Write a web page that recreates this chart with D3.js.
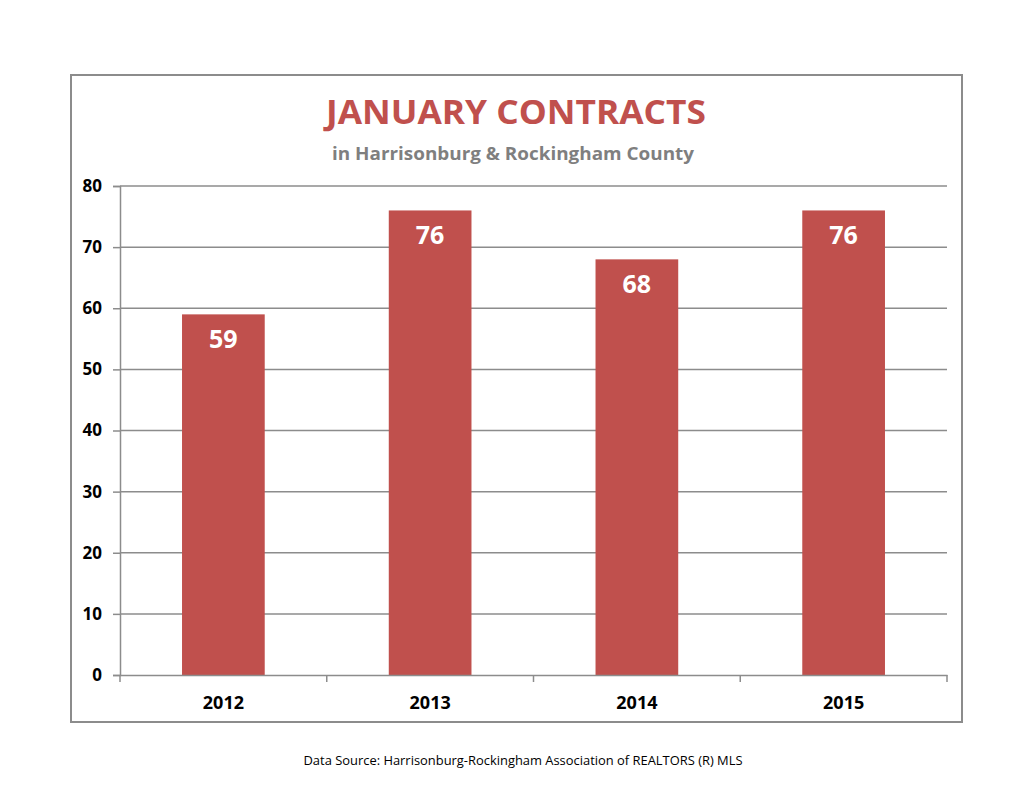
<!DOCTYPE html>
<html><head><meta charset="utf-8">
<script src="https://cdn.jsdelivr.net/npm/d3@7"></script>
<style>body{margin:0;background:#fff;}svg{display:block;}</style>
</head><body>
<script>
const categories = ["2012","2013","2014","2015"];
const values = [59,76,68,76];
const yTicks = [0,10,20,30,40,50,60,70,80];
const title = "JANUARY CONTRACTS";
const subtitle = "in Harrisonburg & Rockingham County";
const source = "Data Source: Harrisonburg-Rockingham Association of REALTORS (R) MLS";

const W=1035,H=800;
const svg=d3.select("body").append("svg").attr("width",W).attr("height",H);
const font="'Open Sans', sans-serif";
svg.append("rect").attr("x",71).attr("y",75).attr("width",891).attr("height",647)
  .attr("fill","#fff").attr("stroke","#8c8c8c").attr("stroke-width",2);

const m={l:120,r:947,t:186,b:675};
const x=d3.scaleBand().domain(categories).range([m.l,m.r]).paddingInner(0).paddingOuter(0);
const y=d3.scaleLinear().domain([0,80]).range([m.b,m.t]);

// gridlines
svg.append("g").selectAll("line").data(yTicks.filter(d=>d>0)).join("line")
  .attr("x1",m.l).attr("x2",m.r).attr("y1",d=>y(d)).attr("y2",d=>y(d))
  .attr("stroke","#8c8c8c").attr("stroke-width",1.5);

// bars
const bw=x.bandwidth()*0.4;
svg.append("g").selectAll("rect").data(values).join("rect")
  .attr("x",(d,i)=>x(categories[i])+x.bandwidth()/2-bw/2)
  .attr("width",bw).attr("y",d=>y(d)).attr("height",d=>y(0)-y(d))
  .attr("fill","#c0504d");

// labels
svg.append("g").selectAll("text").data(values).join("text")
  .attr("x",(d,i)=>x(categories[i])+x.bandwidth()/2).attr("y",d=>y(d)+34)
  .attr("text-anchor","middle").attr("fill","#fff").attr("font-family",font)
  .attr("font-weight","bold").attr("font-size",25).text(d=>d);

// y axis
const ya=svg.append("g").attr("transform",`translate(${m.l},0)`)
  .call(d3.axisLeft(y).tickValues(yTicks).tickSize(7).tickPadding(11));
ya.select(".domain").attr("stroke","#8c8c8c").attr("stroke-width",1.5);
ya.selectAll(".tick line").attr("stroke","#8c8c8c").attr("stroke-width",1.5);
ya.selectAll(".tick text").attr("font-family",font).attr("font-weight","bold")
  .attr("font-size",17).attr("fill","#000");

// x axis
const xa=svg.append("g").attr("transform",`translate(0,${m.b})`)
  .call(d3.axisBottom(x).tickSize(0).tickPadding(21));
xa.select(".domain").attr("stroke","#8c8c8c").attr("stroke-width",1.5);
xa.selectAll(".tick text").attr("font-family",font).attr("font-weight","bold")
  .attr("font-size",18).attr("fill","#000");
const bounds=[...categories.map(c=>x(c)), m.r];
xa.append("g").selectAll("line").data(bounds).join("line")
  .attr("x1",d=>d).attr("x2",d=>d).attr("y1",0).attr("y2",7)
  .attr("stroke","#8c8c8c").attr("stroke-width",1.5);

// titles
svg.append("text").attr("x",516).attr("y",124).attr("text-anchor","middle")
  .attr("font-family",font).attr("font-weight","bold").attr("font-size",34)
  .attr("fill","#c0504d").attr("textLength",380).attr("lengthAdjust","spacingAndGlyphs").text(title);
svg.append("text").attr("x",513).attr("y",160).attr("text-anchor","middle")
  .attr("font-family",font).attr("font-weight","bold").attr("font-size",17)
  .attr("fill","#7f7f7f").attr("textLength",362).attr("lengthAdjust","spacingAndGlyphs").text(subtitle);
svg.append("text").attr("x",523).attr("y",765).attr("text-anchor","middle")
  .attr("font-family",font).attr("font-size",13)
  .attr("fill","#000").attr("textLength",439).attr("lengthAdjust","spacingAndGlyphs").text(source);
</script>
</body></html>
